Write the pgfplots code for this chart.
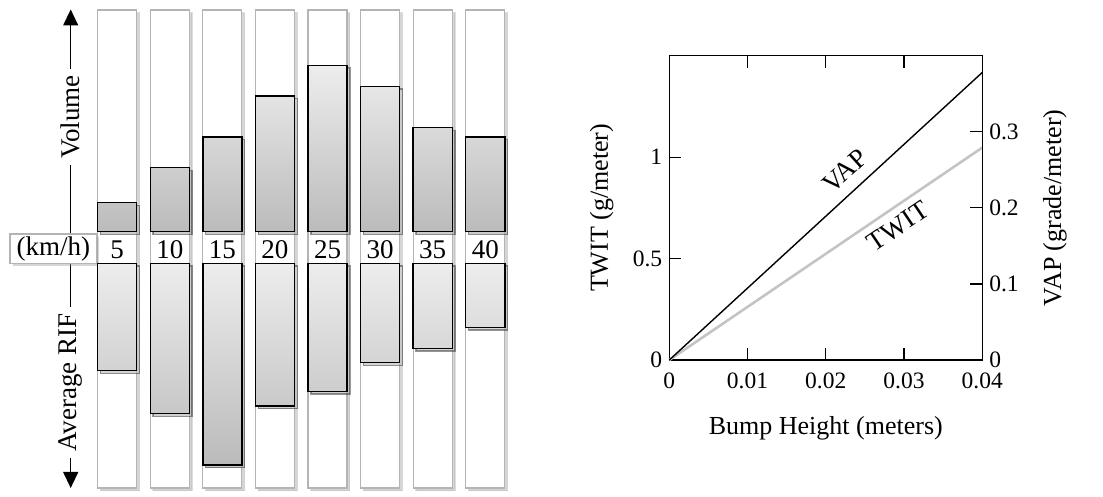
\documentclass[border=0pt]{standalone}
\usepackage{fontspec}
\setmainfont{Liberation Serif}
\usepackage{pgfplots}
\pgfplotsset{compat=1.18}
\usetikzlibrary{arrows.meta,shadows}
\definecolor{colborder}{HTML}{B4B4B4}
\definecolor{barTop}{HTML}{EDEDED}
\definecolor{barBot}{HTML}{BBBBBB}
\definecolor{twitgray}{HTML}{C4C4C4}
\tikzset{
  shad/.style={drop shadow={shadow xshift=1.4pt, shadow yshift=-1.4pt, fill=black!40, opacity=0.4}},
  barsty/.style={draw=black, line width=0.7pt, top color=barTop, bottom color=barBot, shad},
}
\begin{document}
\begin{tikzpicture}[font=\fontsize{13.5pt}{16pt}\selectfont]
\useasboundingbox (0,0) rectangle (551.5pt,248.5pt);
\pgfplotsset{
  leftdiag/.style={
    hide axis, scale only axis, width=210.35pt, height=239pt,
    at={(45.45pt,4.5pt)}, anchor=south west,
    xmin=0.5, xmax=8.5, ymin=-256.3, ymax=221.7,
    bar width=0.742, clip=false,
  },
  rightgeom/.style={scale only axis, width=156.5pt, height=152.15pt,
    at={(334.65pt,68.5pt)}, anchor=south west, xmin=0, xmax=0.04, ymin=0, clip=false,
    tick align=inside, major tick length=6pt, tick style={black, line width=0.6pt},
    axis line style={line width=0.6pt},
    ticklabel style={font=\fontsize{11.75pt}{14pt}\selectfont},
    label style={font=\fontsize{13pt}{15pt}\selectfont},
    /pgf/number format/assume math mode=true},
}
% background columns (full height 478 from the bottom)
\begin{axis}[leftdiag, ymin=0, ymax=478, ybar]
\addplot[fill=white, draw=colborder, line width=0.6pt, shad] coordinates {(1,478) (2,478) (3,478) (4,478) (5,478) (6,478) (7,478) (8,478)};
\end{axis}
% arrows and box
\draw[line width=0.65pt, -{Triangle[length=8pt,width=7.5pt]}] (35.35pt,131.5pt) -- (35.35pt,243.75pt);
\draw[line width=0.65pt, -{Triangle[length=8pt,width=7.5pt]}] (35.35pt,116.85pt) -- (35.35pt,4.5pt);
\node[rotate=90, fill=white, inner sep=3pt] at (35.35pt,190pt) {Volume};
\node[rotate=90, fill=white, inner sep=3pt] at (35.35pt,57.25pt) {Average RIF};
\node[draw=colborder, line width=0.6pt, fill=white, shad, minimum width=43.3pt, minimum height=14.7pt, inner sep=0pt] at (26.68pt,124.15pt) {(km/h)};
% volume bars
\begin{axis}[leftdiag, ybar]
\addplot[barsty] coordinates {(1,29) (2,64) (3,94.7) (4,135.7) (5,166.4) (6,145.4) (7,104) (8,94.7)};
\node at (axis cs:1,-18) {5};
\node at (axis cs:2,-18) {10};
\node at (axis cs:3,-18) {15};
\node at (axis cs:4,-18) {20};
\node at (axis cs:5,-18) {25};
\node at (axis cs:6,-18) {30};
\node at (axis cs:7,-18) {35};
\node at (axis cs:8,-18) {40};
\end{axis}
% average RIF bars
\begin{axis}[leftdiag, ybar stacked]
\addplot[draw=none, fill=none] coordinates {(1,-31.6) (2,-31.6) (3,-31.6) (4,-31.6) (5,-31.6) (6,-31.6) (7,-31.6) (8,-31.6)};
\addplot[barsty] coordinates {(1,-107.4) (2,-150.4) (3,-201.7) (4,-142.7) (5,-128) (6,-99.4) (7,-85) (8,-64)};
\end{axis}
% right chart, TWIT axis
\begin{axis}[rightgeom, ymax=1.5,
  xtick={0,0.01,0.02,0.03,0.04}, xticklabels={0,0.01,0.02,0.03,0.04}, scaled x ticks=false,
  ytick={0,0.5,1}, yticklabels={0,0.5,1}, ytick pos=left,
  xticklabel style={yshift=-3pt},
  xlabel={Bump Height (meters)}, xlabel style={at={(axis description cs:0.5,-0.2235)}, anchor=center},
  ylabel={TWIT (g/meter)}, ylabel style={at={(axis description cs:-0.216,0.5)}, anchor=center}]
\addplot[twitgray, line width=1.3pt] coordinates {(0,0) (0.04,1.047)};
\node[rotate=34, inner sep=0pt, font=\fontsize{13.5pt}{16pt}\selectfont] at (axis cs:0.02923,0.659) {TWIT};
\end{axis}
% right chart, VAP axis
\begin{axis}[rightgeom, ymax=0.4, axis x line=none, axis y line*=right,
  ytick={0,0.1,0.2,0.3}, yticklabels={0,0.1,0.2,0.3},
  ylabel={VAP (grade/meter)}, ylabel style={at={(axis description cs:1.232,0.5)}, anchor=center}]
\addplot[black, line width=0.7pt] coordinates {(0,0) (0.04,0.378)};
\node[rotate=42, inner sep=0pt, font=\fontsize{13.5pt}{16pt}\selectfont] at (axis cs:0.02245,0.2488) {VAP};
\end{axis}
\end{tikzpicture}
\end{document}
